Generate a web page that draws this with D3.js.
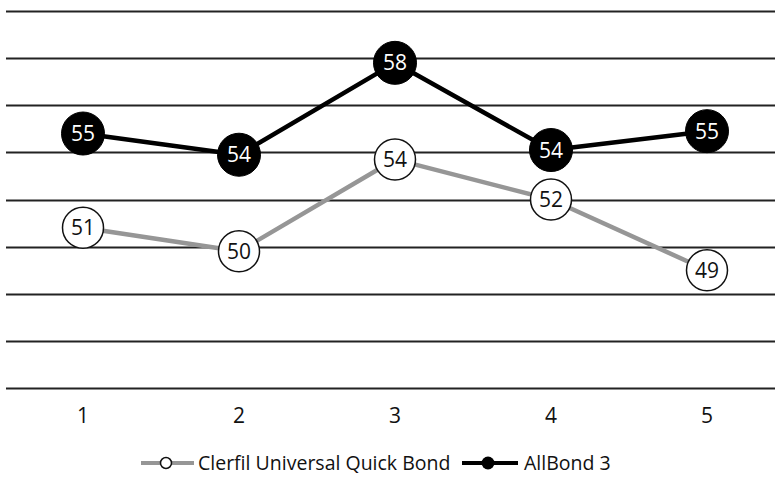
<!DOCTYPE html>
<html>
<head>
<meta charset="utf-8">
<script src="https://cdn.jsdelivr.net/npm/d3@7"></script>
<style>
  html, body { margin: 0; padding: 0; background: #fff; }
  svg { display: block; }
  text { font-family: "Open Sans", "Noto Sans", sans-serif; }
</style>
</head>
<body>
<svg id="chart" width="775" height="478"></svg>
<script>
const categories = ["1", "2", "3", "4", "5"];
const seriesNames = ["Clerfil Universal Quick Bond", "AllBond 3"];
const clerfilValues = [50.8, 49.8, 53.7, 52.0, 49.0];
const allbondValues = [54.8, 53.9, 57.8, 54.1, 54.9];
const yTicks = [44, 46, 48, 50, 52, 54, 56, 58, 60];

const W = 775, H = 478;
const svg = d3.select("#chart");

const x = d3.scaleBand().domain(categories).range([5, 785]).paddingInner(0).paddingOuter(0);
const y = d3.scaleLinear().domain([44, 60]).range([388, 11]);
const cx = c => x(c) + x.bandwidth() / 2;

// gridlines
svg.append("g").selectAll("line").data(yTicks).join("line")
  .attr("x1", 6).attr("x2", 775)
  .attr("y1", d => Math.round(y(d)) + 0.5).attr("y2", d => Math.round(y(d)) + 0.5)
  .attr("stroke", "#222").attr("stroke-width", 2);

// x axis labels
svg.append("g").selectAll("text").data(categories).join("text")
  .attr("x", d => cx(d)).attr("y", 423)
  .attr("text-anchor", "middle")
  .attr("font-size", 21).attr("fill", "#111")
  .text(d => d);

const series = [
  { name: seriesNames[0], values: clerfilValues, line: "#969696", lw: 4.5, fill: "#fff", stroke: "#111", sw: 1.5, r: 20.5, txt: "#111" },
  { name: seriesNames[1], values: allbondValues, line: "#000", lw: 4.5, fill: "#000", stroke: "#000", sw: 1, r: 21.5, txt: "#fff" }
];

const lineGen = d3.line().x((d, i) => cx(categories[i])).y(d => y(d));
const fmt = d3.format(".0f");

series.forEach(s => {
  svg.append("path").datum(s.values)
    .attr("d", lineGen).attr("fill", "none")
    .attr("stroke", s.line).attr("stroke-width", s.lw).attr("stroke-linejoin", "round");
});

series.forEach(s => {
  const g = svg.append("g");
  g.selectAll("circle").data(s.values).join("circle")
    .attr("cx", (d, i) => cx(categories[i])).attr("cy", d => y(d))
    .attr("r", s.r).attr("fill", s.fill).attr("stroke", s.stroke).attr("stroke-width", s.sw);
  g.selectAll("text").data(s.values).join("text")
    .attr("x", (d, i) => cx(categories[i])).attr("y", d => y(d) + 7.5)
    .attr("text-anchor", "middle").attr("font-size", 21).attr("fill", s.txt)
    .text(d => fmt(d));
});

// legend
const legend = svg.append("g");
const l1 = legend.append("g");
l1.append("line").attr("x1", 141).attr("x2", 194).attr("y1", 463).attr("y2", 463)
  .attr("stroke", series[0].line).attr("stroke-width", 4);
l1.append("circle").attr("cx", 166).attr("cy", 463).attr("r", 5.5)
  .attr("fill", "#fff").attr("stroke", "#111").attr("stroke-width", 1.5);
l1.append("text").attr("x", 198).attr("y", 470).attr("font-size", 19.5).attr("fill", "#111")
  .text(seriesNames[0]);

const l2 = legend.append("g");
l2.append("line").attr("x1", 462).attr("x2", 518).attr("y1", 463).attr("y2", 463)
  .attr("stroke", "#000").attr("stroke-width", 4);
l2.append("circle").attr("cx", 488).attr("cy", 463).attr("r", 6.5).attr("fill", "#000");
l2.append("text").attr("x", 524).attr("y", 470).attr("font-size", 19.5).attr("fill", "#111")
  .text(seriesNames[1]);
</script>
</body>
</html>
